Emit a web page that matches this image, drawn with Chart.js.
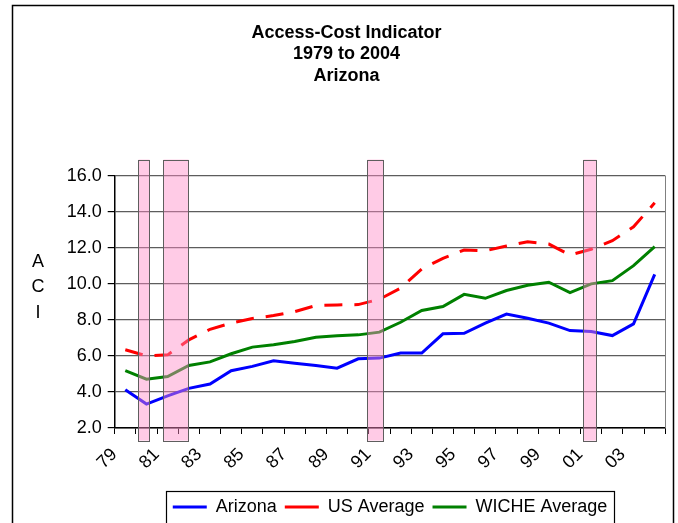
<!DOCTYPE html>
<html>
<head>
<meta charset="utf-8">
<style>
  html, body { margin: 0; padding: 0; background: #fff; }
  canvas { display: block; }
</style>
<script src="https://cdn.jsdelivr.net/npm/chart.js@4.4.1/dist/chart.umd.min.js"></script>
</head>
<body>
<canvas id="aciChart" width="678" height="523"></canvas>
<script>
// years shown on the category axis (1979 .. 2004)
const years = ['79', '80', '81', '82', '83', '84', '85', '86', '87', '88', '89', '90', '91',
               '92', '93', '94', '95', '96', '97', '98', '99', '00', '01', '02', '03', '04'];

const arizona = [4.12, 3.33, 3.78, 4.20, 4.44, 5.18, 5.42, 5.73, 5.60, 5.47, 5.32, 5.84, 5.88,
                 6.16, 6.16, 7.23, 7.26, 7.82, 8.32, 8.09, 7.82, 7.41, 7.36, 7.13, 7.78, 10.53];
const usAverage = [6.34, 6.01, 6.06, 6.89, 7.48, 7.82, 8.08, 8.24, 8.46, 8.80, 8.83, 8.85, 9.15,
                   9.76, 10.83, 11.42, 11.88, 11.84, 12.10, 12.34, 12.21, 11.60, 11.92, 12.40, 13.17, 14.50];
const wicheAverage = [5.18, 4.71, 4.86, 5.47, 5.67, 6.12, 6.49, 6.62, 6.80, 7.04, 7.12, 7.17, 7.32,
                      7.87, 8.52, 8.74, 9.42, 9.20, 9.63, 9.92, 10.09, 9.52, 10.00, 10.18, 11.01, 12.07];

// shaded periods (decimal years, same origin as the category axis)
const recessionStart = [1979.58, 1980.76, 1990.43, 2000.62];
const recessionEnd   = [1980.10, 1981.94, 1991.19, 2001.24];

const yTicks = [2, 4, 6, 8, 10, 12, 14, 16];
const yTitle = ['A', 'C', 'I'];

const FONT = '"Liberation Sans", Arial, sans-serif';

// outer frame of the chart object
const framePlugin = {
    id: 'frame',
    afterDraw(chart) {
        const ctx = chart.ctx;
        ctx.save();
        ctx.strokeStyle = '#000';
        ctx.lineWidth = 1.5;
        ctx.strokeRect(12.5, 5.5, 661, 530);
        ctx.restore();
    }
};

// pink shaded columns, drawn on top of the lines
const shadePlugin = {
    id: 'shade',
    afterDatasetsDraw(chart) {
        const { ctx, scales: { x, y } } = chart;
        const top = y.getPixelForValue(16.9);
        const bottom = y.getPixelForValue(1.3);
        ctx.save();
        recessionStart.forEach((s, i) => {
            const x0 = Math.round(x.getPixelForValue(s - 1979)) + 0.5;
            const x1 = Math.round(x.getPixelForValue(recessionEnd[i] - 1979)) + 0.5;
            ctx.fillStyle = 'rgba(255, 140, 200, 0.45)';
            ctx.fillRect(x0, top, x1 - x0, bottom - top);
            ctx.strokeStyle = '#5e5e5e';
            ctx.lineWidth = 1;
            ctx.strokeRect(x0, Math.round(top) + 0.5, x1 - x0, Math.round(bottom - top));
        });
        ctx.restore();
    }
};

// plot-area right edge, stacked axis title, legend box
const extrasPlugin = {
    id: 'extras',
    afterLayout(chart) {
        // centre the legend under the plot area, title a bit further left
        const lg = chart.legend;
        lg.left = chart.chartArea.left;
        lg.right = chart.chartArea.right;
        chart.titleBlock.left = 28;
        chart.titleBlock.right = 665;
    },
    afterDraw(chart) {
        const { ctx, chartArea } = chart;
        ctx.save();
        ctx.strokeStyle = '#808080';
        ctx.lineWidth = 1;
        ctx.beginPath();
        ctx.moveTo(Math.round(chartArea.right) + 0.5, chartArea.top);
        ctx.lineTo(Math.round(chartArea.right) + 0.5, chartArea.bottom);
        ctx.stroke();

        ctx.fillStyle = '#000';
        ctx.font = '18px ' + FONT;
        ctx.textAlign = 'center';
        ctx.textBaseline = 'middle';
        yTitle.forEach((ch, i) => ctx.fillText(ch, 38, 262 + i * 25.5));

        const boxes = chart.legend.legendHitBoxes;
        if (boxes && boxes.length) {
            const first = boxes[0];
            const last = boxes[boxes.length - 1];
            const l = Math.round(first.left) - 6.5;
            const r = Math.round(last.left + last.width) + 7.5;
            ctx.strokeStyle = '#000';
            ctx.lineWidth = 1.2;
            ctx.strokeRect(l, 491.5, r - l, 40);
        }
        ctx.restore();
    }
};

const ctx = document.getElementById('aciChart');
new Chart(ctx, {
    type: 'line',
    data: {
        labels: years,
        datasets: [
            { label: 'Arizona', data: arizona, borderColor: '#0000ff', backgroundColor: '#0000ff',
              borderWidth: 3 },
            { label: 'US Average', data: usAverage, borderColor: '#ff0000', backgroundColor: '#ff0000',
              borderWidth: 3, borderDash: [18, 12] },
            { label: 'WICHE Average', data: wicheAverage, borderColor: '#008000', backgroundColor: '#008000',
              borderWidth: 3 }
        ]
    },
    options: {
        responsive: false,
        animation: false,
        devicePixelRatio: 1,
        elements: {
            line: { tension: 0, borderCapStyle: 'butt' },
            point: { radius: 0, hoverRadius: 0 }
        },
        layout: { padding: { left: 66, right: 12.7, top: 12, bottom: -3 } },
        plugins: {
            title: {
                display: true,
                text: ['Access-Cost Indicator', '1979 to 2004', 'Arizona'],
                color: '#000',
                font: { family: FONT, size: 18, weight: 'bold', lineHeight: 1.2 },
                padding: { top: 10, bottom: 89 }
            },
            legend: {
                position: 'bottom',
                labels: {
                    color: '#000',
                    font: { family: FONT, size: 18 },
                    usePointStyle: true,
                    pointStyle: 'line',
                    pointStyleWidth: 34,
                    padding: 8
                }
            },
            tooltip: { enabled: false }
        },
        scales: {
            x: {
                offset: true,
                afterFit(scale) {
                    scale.height = 62;
                    scale.paddingLeft = 0;
                    scale.paddingRight = 0;
                },
                border: { color: '#000', width: 1.5 },
                grid: { offset: true, drawOnChartArea: false, tickLength: 6, tickColor: '#000' },
                ticks: {
                    autoSkip: false,
                    maxRotation: 45,
                    minRotation: 45,
                    color: '#000',
                    font: { family: FONT, size: 18 },
                    padding: 10,
                    labelOffset: -11,
                    callback(value, index) { return index % 2 === 0 ? years[index] : ''; }
                }
            },
            y: {
                min: yTicks[0],
                max: yTicks[yTicks.length - 1],
                afterFit(scale) { scale.width = 48.7; },
                afterBuildTicks(scale) { scale.ticks = yTicks.map(v => ({ value: v })); },
                border: { color: '#000', width: 1.5 },
                grid: { color: '#5c5c5c', lineWidth: 1.2, tickLength: 7, tickColor: '#000' },
                ticks: {
                    color: '#000',
                    font: { family: FONT, size: 18 },
                    padding: 6,
                    callback(value) { return Number(value).toFixed(1); }
                }
            }
        }
    },
    plugins: [shadePlugin, extrasPlugin, framePlugin]
});
</script>
</body>
</html>
